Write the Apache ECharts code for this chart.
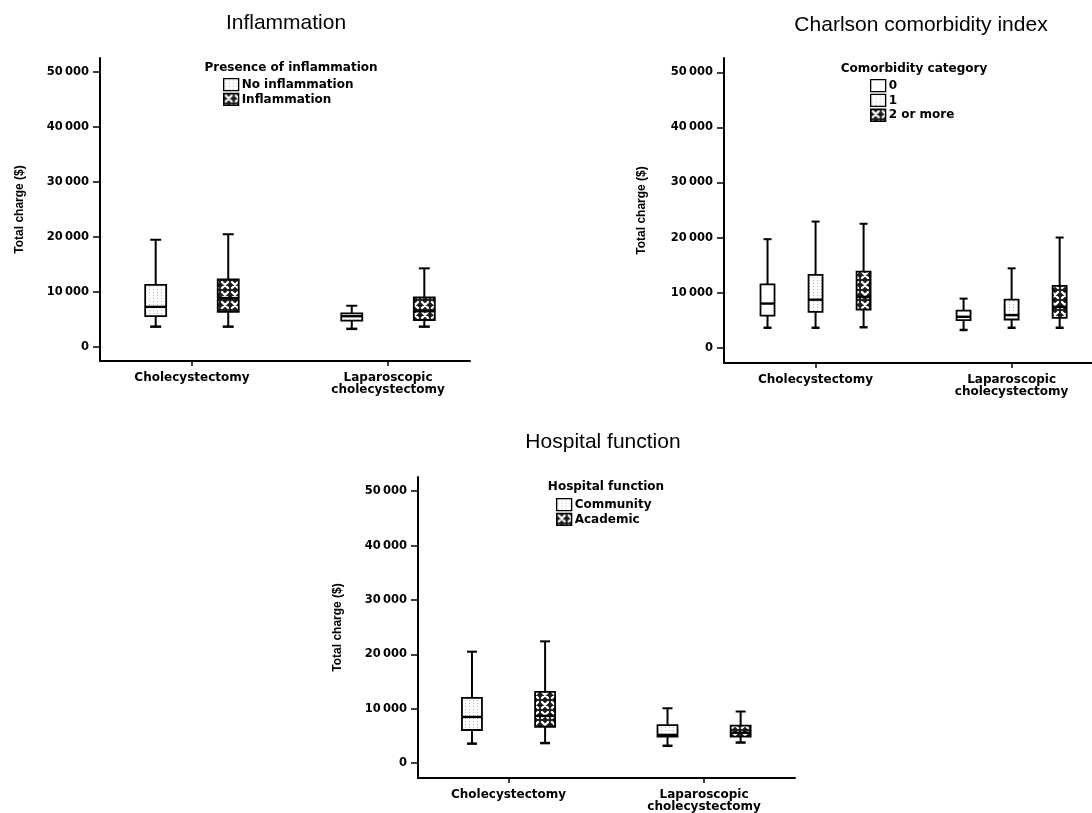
<!DOCTYPE html>
<html>
<head>
<meta charset="utf-8">
<script src="https://cdn.jsdelivr.net/npm/echarts@6/dist/echarts.min.js"></script>
<style>
html,body{margin:0;padding:0;background:#fff;}
#chart{width:1092px;height:813px;}
</style>
</head>
<body>
<div id="chart"></div>
<script>
// ---------- data ----------
const categories = ['Cholecystectomy', 'Laparoscopic\ncholecystectomy'];
const yTicks = [0, 10000, 20000, 30000, 40000, 50000];
const catTicks = [0, 1];
// each row: [min, Q1, median, Q3, max] for Cholecystectomy, Laparoscopic
const noInflammation = [[3700, 5600, 7300, 11300, 19500], [3300, 4800, 5600, 6100, 7500]];
const inflammation   = [[3700, 6400, 8900, 12300, 20500], [3700, 4900, 6500, 9000, 14300]];
const cci0     = [[3600, 5800, 8000, 11500, 19700], [3200, 5000, 5600, 6700, 8900]];
const cci1     = [[3600, 6500, 8700, 13200, 22900], [3600, 5100, 5900, 8700, 14400]];
const cci2plus = [[3700, 6900, 9200, 13800, 22500], [3600, 5400, 7400, 11200, 20000]];
const community = [[3600, 6100, 8500, 12000, 20500], [3200, 4900, 5200, 7000, 10100]];
const academic  = [[3700, 6700, 8700, 13100, 22400], [3800, 4900, 5600, 6900, 9500]];

const panelTitles = ['Inflammation', 'Charlson comorbidity index', 'Hospital function'];
const legendTitles = ['Presence of inflammation', 'Comorbidity category', 'Hospital function'];
const yName = 'Total charge ($)';

// ---------- patterns ----------
function dotPattern() {
  const c = document.createElement('canvas');
  c.width = 4; c.height = 3;
  const g = c.getContext('2d');
  g.fillStyle = '#fff'; g.fillRect(0, 0, 4, 3);
  g.fillStyle = '#b8b8b8'; g.fillRect(1, 1, 1, 1);
  return {image: c, repeat: 'repeat'};
}
function crossPattern() {
  const c = document.createElement('canvas');
  c.width = 10; c.height = 10;
  const g = c.getContext('2d');
  g.fillStyle = '#1c1c1c'; g.fillRect(0, 0, 10, 10);
  g.strokeStyle = '#fff'; g.lineWidth = 2.4; g.lineCap = 'round';
  g.beginPath();
  g.moveTo(2, 2); g.lineTo(8, 8);
  g.moveTo(8, 2); g.lineTo(2, 8);
  g.stroke();
  return {image: c, repeat: 'repeat'};
}
const DOT = dotPattern();
const CROSS = crossPattern();
const WHITE = '#ffffff';

const FONT = 'DejaVu Sans';
const fmt = v => {
  const s = String(v);
  return s.length > 3 ? s.slice(0, s.length - 3) + '\u2009' + s.slice(-3) : s;
};

// ---------- box renderer ----------
function boxRenderer(offset, boxW, capW, fill) {
  return function (params, api) {
    const c = api.value(0);
    const p = i => api.coord([c + offset, api.value(i)]);
    const cx = p(1)[0];
    const yMin = p(1)[1], yQ1 = p(2)[1], yMed = p(3)[1], yQ3 = p(4)[1], yMax = p(5)[1];
    const hw = boxW / 2, hc = capW / 2;
    const ls = {stroke: '#000', lineWidth: 2};
    return {
      type: 'group',
      children: [
        {type: 'line', shape: {x1: cx, y1: yMax, x2: cx, y2: yQ3}, style: ls},
        {type: 'line', shape: {x1: cx, y1: yQ1, x2: cx, y2: yMin}, style: ls},
        {type: 'line', shape: {x1: cx - hc, y1: yMax, x2: cx + hc, y2: yMax}, style: ls},
        {type: 'line', shape: {x1: cx - hc, y1: yMin, x2: cx + hc, y2: yMin}, style: {stroke: '#000', lineWidth: 2.5}},
        {type: 'rect', shape: {x: cx - hw, y: yQ3, width: boxW, height: yQ1 - yQ3},
          style: {fill: fill, stroke: '#000', lineWidth: 1.8}},
        {type: 'line', shape: {x1: cx - hw, y1: yMed, x2: cx + hw, y2: yMed}, style: {stroke: '#000', lineWidth: 2.4}}
      ]
    };
  };
}
function toData(arr) { return arr.map((r, i) => [i].concat(r)); }

// ---------- panels ----------
const panels = [
  {grid: {left: 100, top: 58, width: 370, height: 303}, x: [-0.469, 1.418], y: [-2545, 52545],
   nameGap: 74, boxW: 21, capW: 11, off: 0.185,
   groups: [['No inflammation', noInflammation, DOT], ['Inflammation', inflammation, CROSS]],
   legend: {left: 223, top: 78}, legendTitle: [291, 68], title: [286, 23]},
  {grid: {left: 724, top: 58, width: 368, height: 305}, x: [-0.467, 1.41], y: [-2800, 52620],
   nameGap: 76, boxW: 14, capW: 8, off: 0.245,
   groups: [['0', cci0, WHITE], ['1', cci1, DOT], ['2 or more', cci2plus, CROSS]],
   legend: {left: 870, top: 79}, legendTitle: [914, 69], title: [921, 25]},
  {grid: {left: 418, top: 477, width: 377, height: 304}, x: [-0.463, 1.465], y: [-2720, 52610],
   nameGap: 74, boxW: 20, capW: 10, off: 0.187,
   groups: [['Community', community, DOT], ['Academic', academic, CROSS]],
   legend: {left: 556, top: 498}, legendTitle: [606, 487], title: [603, 442]}
];

const grid = [], xAxis = [], yAxis = [], series = [], legend = [], graphic = [];
panels.forEach((pn, k) => {
  grid.push(pn.grid);
  xAxis.push({
    type: 'value', gridIndex: k, min: pn.x[0], max: pn.x[1],
    axisLine: {show: true, onZero: false, lineStyle: {color: '#000', width: 2}},
    axisTick: {show: true, customValues: catTicks, length: 5, lineStyle: {color: '#000', width: 1.5}},
    axisLabel: {show: true, customValues: catTicks, formatter: v => categories[Math.round(v)],
      margin: 11, color: '#000', fontFamily: FONT, fontWeight: 'bold', fontSize: 12, lineHeight: 12, align: 'center'},
    splitLine: {show: false}
  });
  yAxis.push({
    type: 'value', gridIndex: k, min: pn.y[0], max: pn.y[1],
    axisLine: {show: true, onZero: false, lineStyle: {color: '#000', width: 2}},
    axisTick: {show: true, customValues: yTicks, length: 7, lineStyle: {color: '#000', width: 1.5}},
    axisLabel: {show: true, customValues: yTicks, formatter: fmt, margin: 11, color: '#000',
      fontFamily: FONT, fontWeight: 'bold', fontSize: 11.5},
    splitLine: {show: false},
    name: yName, nameLocation: 'middle', nameGap: pn.nameGap,
    nameTextStyle: {color: '#000', fontFamily: 'Liberation Sans', fontWeight: 'bold', fontSize: 12}
  });
  const n = pn.groups.length;
  pn.groups.forEach((gp, j) => {
    const offset = (j - (n - 1) / 2) * (n === 2 ? 2 * pn.off : pn.off);
    series.push({
      type: 'custom', name: gp[0], xAxisIndex: k, yAxisIndex: k,
      data: toData(gp[1]),
      renderItem: boxRenderer(offset, pn.boxW, pn.capW, gp[2]),
      itemStyle: {color: gp[2], borderColor: '#000'},
      silent: true, animation: false
    });
  });
  legend.push({
    orient: 'vertical', left: pn.legend.left, top: pn.legend.top, padding: 0,
    itemWidth: 15, itemHeight: 12, itemGap: 1.5, icon: 'rect', selectedMode: false,
    textStyle: {color: '#000', fontFamily: FONT, fontWeight: 'bold', fontSize: 12, padding: [0, 0, 0, -2]},
    data: pn.groups.map(gp => ({name: gp[0], itemStyle: {color: gp[2], borderColor: '#000', borderWidth: 1.3}}))
  });
  graphic.push({type: 'text', x: pn.title[0], y: pn.title[1],
    style: {text: panelTitles[k], fill: '#000', font: '21px "Liberation Sans"', textAlign: 'center', textVerticalAlign: 'middle'}});
  graphic.push({type: 'text', x: pn.legendTitle[0], y: pn.legendTitle[1],
    style: {text: legendTitles[k], fill: '#000', font: 'bold 12px "DejaVu Sans"', textAlign: 'center', textVerticalAlign: 'middle'}});
});

const chart = echarts.init(document.getElementById('chart'), null, {renderer: 'canvas'});
chart.setOption({
  backgroundColor: '#fff',
  animation: false,
  grid, xAxis, yAxis, series, legend, graphic
});
</script>
</body>
</html>
